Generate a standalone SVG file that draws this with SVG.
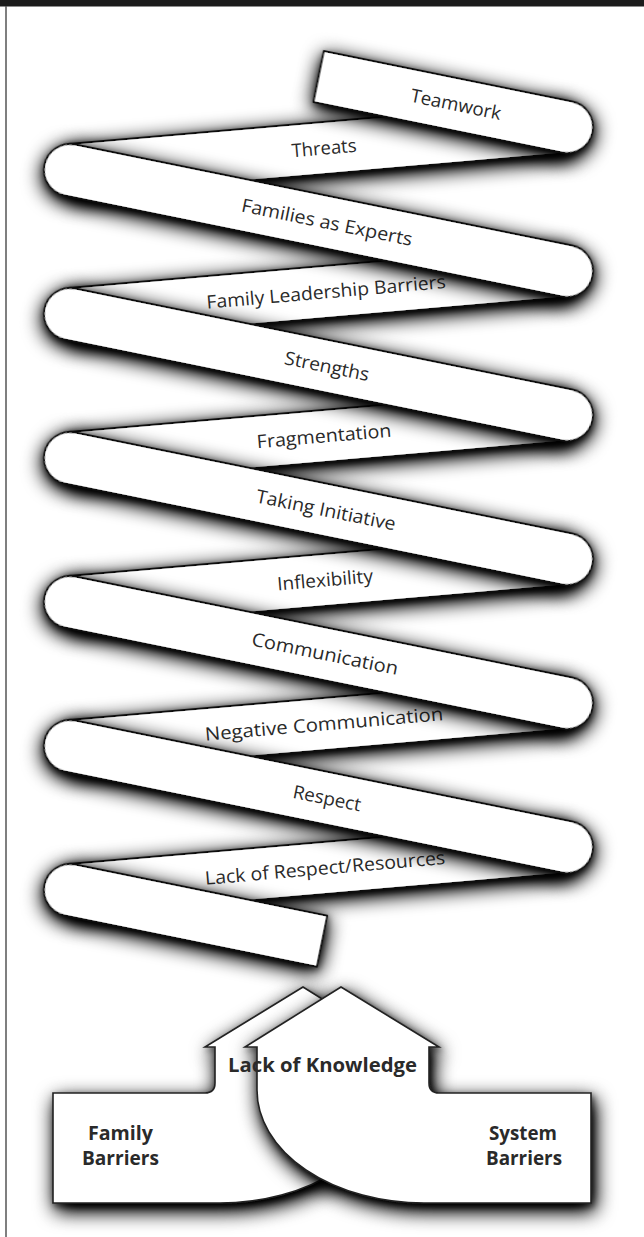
<svg xmlns="http://www.w3.org/2000/svg" width="644" height="1237" viewBox="0 0 644 1237">
<defs>
<style>
.band{fill:#fff;stroke:#111;stroke-width:1.8;stroke-linejoin:round}
.lbl{font-family:"Open Sans","Liberation Sans",sans-serif;font-size:18.5px;fill:#2a2a2a;text-anchor:middle}
.bold{font-family:"Open Sans","Liberation Sans",sans-serif;font-size:19px;font-weight:700;fill:#2a2a2a;text-anchor:middle}
.house{fill:#fff;stroke:#222;stroke-width:1.6;stroke-linejoin:miter}
</style>
<filter id="sh" x="-20%" y="-140%" width="140%" height="380%">
<feGaussianBlur in="SourceAlpha" stdDeviation="10" result="b1"/>
<feOffset in="b1" dx="1" dy="5" result="o1"/>
<feComponentTransfer in="o1" result="s1"><feFuncA type="linear" slope="1.35"/></feComponentTransfer>
<feGaussianBlur in="SourceAlpha" stdDeviation="3" result="b2"/>
<feOffset in="b2" dx="1" dy="2" result="o2"/>
<feComponentTransfer in="o2" result="s2"><feFuncA type="linear" slope="0.55"/></feComponentTransfer>
<feMerge><feMergeNode in="s1"/><feMergeNode in="s2"/><feMergeNode in="SourceGraphic"/></feMerge>
</filter>
<filter id="shh" x="-25%" y="-25%" width="150%" height="160%">
<feGaussianBlur in="SourceAlpha" stdDeviation="10" result="b1"/>
<feOffset in="b1" dx="3" dy="7" result="o1"/>
<feComponentTransfer in="o1" result="s1"><feFuncA type="linear" slope="1.3"/></feComponentTransfer>
<feGaussianBlur in="SourceAlpha" stdDeviation="3" result="b2"/>
<feOffset in="b2" dx="2" dy="3" result="o2"/>
<feComponentTransfer in="o2" result="s2"><feFuncA type="linear" slope="0.55"/></feComponentTransfer>
<feMerge><feMergeNode in="s1"/><feMergeNode in="s2"/><feMergeNode in="SourceGraphic"/></feMerge>
</filter>
<path id="front" d="M0,-26 H507.15 A26,26 0 0 1 507.15,26 H0 A26,26 0 0 1 0,-26 Z"/>
<path id="back" d="M0,-26 H498.86 V26 H0 Z"/>
</defs>
<rect x="0" y="0" width="644" height="1237" fill="#fff"/>
<rect x="0" y="0" width="644" height="6.5" fill="#1b1b1b"/>
<line x1="6" y1="6" x2="6" y2="1237" stroke="#555" stroke-width="1.5"/>

<g id="back-bands">
<g id="n-threats">
<use href="#back" class="band" filter="url(#sh)" transform="translate(70,170) rotate(-4.945)"/>
<text class="lbl" transform="translate(324,148) rotate(-4.945)" y="6.5" textLength="65" lengthAdjust="spacingAndGlyphs">Threats</text>
</g>
<g id="n-family-leadership-barriers">
<use href="#back" class="band" filter="url(#sh)" transform="translate(70,314) rotate(-4.945)"/>
<text class="lbl" transform="translate(326,291.9) rotate(-4.945)" y="6.5" textLength="240" lengthAdjust="spacingAndGlyphs">Family Leadership Barriers</text>
</g>
<g id="n-fragmentation">
<use href="#back" class="band" filter="url(#sh)" transform="translate(70,458) rotate(-4.945)"/>
<text class="lbl" transform="translate(324,436) rotate(-4.945)" y="6.5" textLength="135" lengthAdjust="spacingAndGlyphs">Fragmentation</text>
</g>
<g id="n-inflexibility">
<use href="#back" class="band" filter="url(#sh)" transform="translate(70,602) rotate(-4.945)"/>
<text class="lbl" transform="translate(325,579.9) rotate(-4.945)" y="6.5" textLength="96" lengthAdjust="spacingAndGlyphs">Inflexibility</text>
</g>
<g id="n-negative-communication">
<use href="#back" class="band" filter="url(#sh)" transform="translate(70,746) rotate(-4.945)"/>
<text class="lbl" transform="translate(324,724) rotate(-4.945)" y="6.5" textLength="239" lengthAdjust="spacingAndGlyphs">Negative Communication</text>
</g>
<g id="n-lack-of-respect">
<use href="#back" class="band" filter="url(#sh)" transform="translate(70,890) rotate(-4.945)"/>
<text class="lbl" transform="translate(325,867.9) rotate(-4.945)" y="6.5" textLength="241" lengthAdjust="spacingAndGlyphs">Lack of Respect/Resources</text>
</g>
</g>

<g id="front-bands">
<g id="n-teamwork">
<path class="band" filter="url(#sh)" transform="translate(567,127) rotate(11.487)" d="M-253.4,-26 H0 A26,26 0 0 1 0,26 H-253.4 Z"/>
<text class="lbl" transform="translate(456,104.4) rotate(11.487)" y="6.5" textLength="92" lengthAdjust="spacingAndGlyphs">Teamwork</text>
</g>
<g id="n-families-as-experts">
<use href="#front" class="band" filter="url(#sh)" transform="translate(70,170) rotate(11.487)"/>
<text class="lbl" transform="translate(327,222.2) rotate(11.487)" y="6.5" textLength="174" lengthAdjust="spacingAndGlyphs">Families as Experts</text>
</g>
<g id="n-strengths">
<use href="#front" class="band" filter="url(#sh)" transform="translate(70,314) rotate(11.487)"/>
<text class="lbl" transform="translate(327,366.2) rotate(11.487)" y="6.5" textLength="86" lengthAdjust="spacingAndGlyphs">Strengths</text>
</g>
<g id="n-taking-initiative">
<use href="#front" class="band" filter="url(#sh)" transform="translate(70,458) rotate(11.487)"/>
<text class="lbl" transform="translate(326,510) rotate(11.487)" y="6.5" textLength="142" lengthAdjust="spacingAndGlyphs">Taking Initiative</text>
</g>
<g id="n-communication">
<use href="#front" class="band" filter="url(#sh)" transform="translate(70,602) rotate(11.487)"/>
<text class="lbl" transform="translate(325,653.8) rotate(11.487)" y="6.5" textLength="149" lengthAdjust="spacingAndGlyphs">Communication</text>
</g>
<g id="n-respect">
<use href="#front" class="band" filter="url(#sh)" transform="translate(70,746) rotate(11.487)"/>
<text class="lbl" transform="translate(327,798.2) rotate(11.487)" y="6.5" textLength="69" lengthAdjust="spacingAndGlyphs">Respect</text>
</g>
<g id="n-bottom-band">
<path class="band" filter="url(#sh)" transform="translate(70,890) rotate(11.487)" d="M0,-26 H257.2 V26 H0 A26,26 0 0 1 0,-26 Z"/>
</g>
</g>

<g id="connectors"></g>

<g id="n-family-barriers">
<path class="house" filter="url(#shh)" d="M303,987 L205,1047 L215,1047 L215,1083 Q215,1093 205,1093 L53,1093 L53,1203 L220,1203 A167,113 0 0 0 387,1090 L387,1047 L399,1047 Z"/>
</g>
<g id="n-system-barriers">
<path class="house" filter="url(#shh)" d="M341,987 L439,1047 L429,1047 L429,1083 Q429,1093 439,1093 L591,1093 L591,1203 L424,1203 A167,113 0 0 1 257,1090 L257,1047 L245,1047 Z"/>
</g>
<g id="labels-bottom">
<text class="bold" x="322.5" y="1072" textLength="189" lengthAdjust="spacingAndGlyphs">Lack of Knowledge</text>
<text class="bold" x="120.5" y="1140" textLength="65" lengthAdjust="spacingAndGlyphs">Family</text>
<text class="bold" x="120.5" y="1165" textLength="77" lengthAdjust="spacingAndGlyphs">Barriers</text>
<text class="bold" x="523" y="1140" textLength="68" lengthAdjust="spacingAndGlyphs">System</text>
<text class="bold" x="524" y="1165" textLength="76" lengthAdjust="spacingAndGlyphs">Barriers</text>
</g>
</svg>
